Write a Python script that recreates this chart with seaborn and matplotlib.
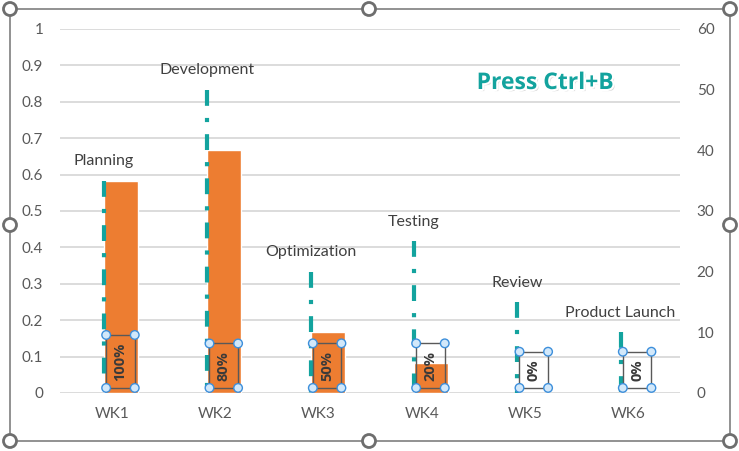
import numpy as np
import pandas as pd
import matplotlib
matplotlib.use("Agg")
import matplotlib.pyplot as plt
import matplotlib.patheffects as pe
from matplotlib.patches import Circle, Rectangle
from matplotlib.transforms import IdentityTransform
import seaborn as sns

# data
weeks = ["WK1", "WK2", "WK3", "WK4", "WK5", "WK6"]
tasks = ["Planning", "Development", "Optimization", "Testing", "Review", "Product Launch"]
duration = [35, 50, 20, 25, 15, 10]
done = [35, 40, 10, 5, 0, 0]

sns.set_theme(style="white")
plt.rcParams["font.family"] = ["Lato", "DejaVu Sans"]

ORANGE = "#ED7D31"
TEAL = "#13A39E"
GRAY = "#595959"

W, H = 739, 451
fig = plt.figure(figsize=(W / 100, H / 100), dpi=100, facecolor="white")
ax = fig.add_axes([60 / W, 1 - 393 / H, 620 / W, 364 / H])
ax2 = ax.twinx()

df = pd.DataFrame({"week": weeks, "task": tasks, "duration": duration, "done": done})
df["pct"] = [f"{d / t:.0%}" for d, t in zip(df["done"], df["duration"])]

# progress bars (right axis)
sns.barplot(data=df, x="week", y="done", ax=ax2, color=ORANGE, saturation=1,
            width=0.33, zorder=2)
for p in ax2.patches:
    p.set_x(p.get_x() + 0.09)

# duration lines
for i, row in df.iterrows():
    ax2.plot([i - 0.075, i - 0.075], [row["duration"], 0], color=TEAL, lw=3,
             ls=(0, (3.8, 2.9, 1, 2.9)), dash_capstyle="butt", zorder=3)
    ax2.annotate(row["task"], (i - 0.075, row["duration"]), xytext=(0, 14),
                 textcoords="offset points", ha="center", va="center",
                 color="#404040", fontsize=11.5)

pct_texts = []
for i, row in df.iterrows():
    t = ax2.annotate(row["pct"], (i + 0.085, 0), xytext=(0, 8.9),
                     textcoords="offset points", rotation=90, ha="center",
                     va="bottom", fontweight="bold", fontsize=10.5, color="#3A3A3A",
                     family=["Open Sans", "DejaVu Sans"],
                     bbox=dict(boxstyle="square,pad=0.5", fc="none", ec=GRAY, lw=1),
                     zorder=4)
    pct_texts.append(t)

# axes styling
ax.set_ylim(0, 1)
yt = np.round(np.arange(0, 1.01, 0.1), 1)
ax.set_yticks(yt, [f"{v:g}" for v in yt])
ax.grid(axis="y", color="#D9D9D9", lw=1.3)
ax.set_axisbelow(True)
ax2.set_ylim(0, 60)
ax2.set_yticks(range(0, 61, 10))
ax2.set_ylabel("")
ax2.set_xlabel("")
ax.set_xlim(-0.5, 5.5)
ax.set_xticks(range(len(weeks)), weeks)
for a in (ax, ax2):
    for s in a.spines.values():
        s.set_visible(False)
ax.tick_params(axis="y", length=0, pad=12, labelcolor=GRAY, labelsize=11)
ax.tick_params(axis="x", length=0, pad=10, labelcolor=GRAY, labelsize=11)
ax2.tick_params(axis="y", length=0, pad=12, labelcolor=GRAY, labelsize=11)

fig.text(545 / W, 1 - 83 / H, "Press Ctrl+B", ha="center", va="center",
         fontsize=16.5, fontweight="bold", color=TEAL, family=["Open Sans", "DejaVu Sans"],
         path_effects=[pe.withSimplePatchShadow(offset=(1.5, -1.5), shadow_rgbFace="#888888", alpha=0.35),
                       pe.withStroke(linewidth=3, foreground="white")])

# selection handles on the label boxes
fig.canvas.draw()
r = fig.canvas.get_renderer()
for t in pct_texts:
    bb = t.get_bbox_patch().get_window_extent(r)
    for x in (bb.x0, bb.x1):
        for y in (bb.y0, bb.y1):
            fig.add_artist(Circle((x, y), 4.3, transform=IdentityTransform(),
                                  fc="#D2E8FA", ec="#3D8FDB", lw=1, zorder=10))

# chart frame with handles
fig.add_artist(Rectangle((10, H - 441), 720, 432, fill=False, ec="#7F7F7F", lw=1.2,
                         transform=IdentityTransform(), zorder=9))
for x in (10, 369, 730):
    for y in (9, 225, 441):
        if x == 369 and y == 225:
            continue
        fig.add_artist(Circle((x, H - y), 6.5, transform=IdentityTransform(),
                              fc="white", ec="#6E6E6E", lw=2, zorder=11))

fig.savefig("out.png", dpi=100)
